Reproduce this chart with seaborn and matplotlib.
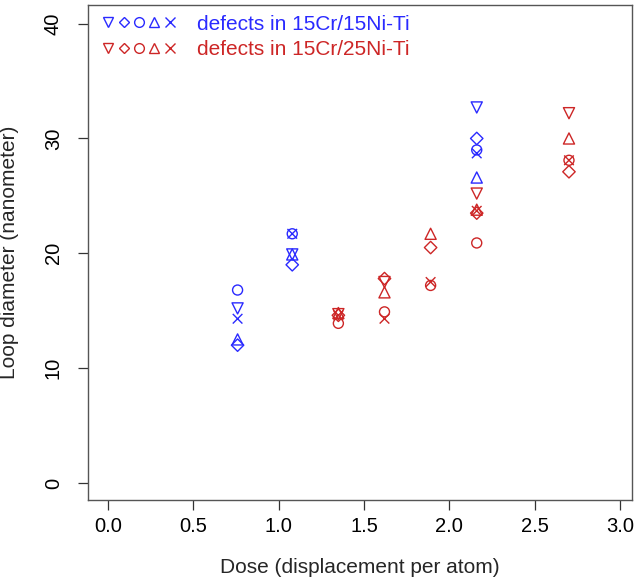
import numpy as np
import pandas as pd
import matplotlib
matplotlib.use('Agg')
import matplotlib.pyplot as plt
import seaborn as sns
from matplotlib.legend_handler import HandlerTuple
from matplotlib.lines import Line2D

# data
blue_dose = [0.76, 1.08, 2.16]
blue_down = [15.2, 19.9, 32.7]
blue_diamond = [12.0, 19.0, 30.0]
blue_circle = [16.8, 21.7, 29.0]
blue_up = [12.5, 19.9, 26.6]
blue_x = [14.3, 21.7, 28.7]

red_dose = [1.35, 1.62, 1.89, 2.16, 2.70]
red_down = [14.7, 17.5, np.nan, 25.2, 32.2]
red_diamond = [14.6, 17.8, 20.5, 23.5, 27.1]
red_circle = [13.9, 14.9, 17.2, 20.9, 28.1]
red_up = [14.8, 16.6, 21.7, 23.8, 30.0]
red_x = [14.6, 14.3, 17.5, 23.7, 28.1]

labels = ['defects in 15Cr/15Ni-Ti', 'defects in 15Cr/25Ni-Ti']
x_ticks = [0.0, 0.5, 1.0, 1.5, 2.0, 2.5, 3.0]
y_ticks = [0, 10, 20, 30, 40]

blue = '#2a2aff'
red = '#cd2626'
markers = ['v', 'D', 'o', '^', 'x']
msize = {'v': 64, 'D': 40, 'o': 52, '^': 64, 'x': 48}

sns.set_style('white')
plt.rcParams['font.family'] = ['Liberation Sans', 'DejaVu Sans']

fig = plt.figure(figsize=(6.36, 5.85), dpi=100)
ax = fig.add_axes([0.138, 0.145, 0.856, 0.846])

groups = [
    (blue_dose, [blue_down, blue_diamond, blue_circle, blue_up, blue_x], blue),
    (red_dose, [red_down, red_diamond, red_circle, red_up, red_x], red),
]
for dose, series, col in groups:
    for m, vals in zip(markers, series):
        df = pd.DataFrame({'dose': dose, 'diam': vals}).dropna()
        sns.scatterplot(data=df, x='dose', y='diam', marker=m, s=msize[m], ax=ax)
        pc = ax.collections[-1]
        pc.set_facecolor('none')
        pc.set_edgecolor(col)
        pc.set_linewidth(1.0)

ax.set_xlim(-0.117, 3.07)
ax.set_ylim(-1.5, 41.6)
ax.set_xticks(x_ticks)
ax.set_xticklabels([f'{t:.1f}' for t in x_ticks])
ax.set_yticks(y_ticks)
ax.set_yticklabels([str(t) for t in y_ticks], rotation=90, va='center')
ax.tick_params(direction='out', length=7, width=0.9, colors='#333333',
               labelcolor='black', labelsize=14.5, pad=5, bottom=True, left=True)
ax.tick_params(axis='y', pad=11)
for sp in ax.spines.values():
    sp.set_color('#555555')
    sp.set_linewidth(1.0)
ax.set_xlabel('Dose (displacement per atom)', fontsize=15, labelpad=16)
ax.set_ylabel('Loop diameter (nanometer)', fontsize=15, labelpad=18)

handles = []
for col in [blue, red]:
    handles.append(tuple(Line2D([], [], marker=m, linestyle='none', markerfacecolor='none',
                                markeredgecolor=col, color=col, markersize=7 if m != 'D' else 5.5)
                         for m in markers))
leg = ax.legend(handles, labels, handler_map={tuple: HandlerTuple(ndivide=None, pad=0.1)},
                loc='upper left', bbox_to_anchor=(0.008, 1.0), frameon=False, fontsize=15,
                handlelength=3.6, handletextpad=1.0, labelspacing=0.3, borderaxespad=0.05)
for txt, col in zip(leg.get_texts(), [blue, red]):
    txt.set_color(col)

fig.savefig('out.png', dpi=100)
